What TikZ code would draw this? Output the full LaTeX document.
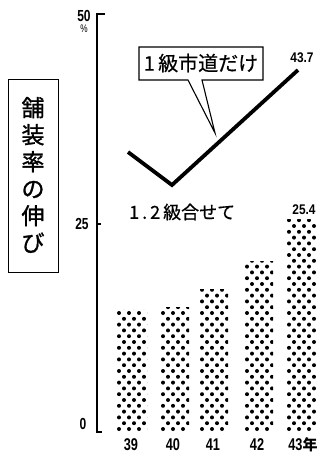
\documentclass[tikz,border=0pt]{standalone}
\usepackage{fontspec}
\newfontfamily\jp{Noto Sans CJK JP}
\newfontfamily\jpt[FakeBold=1.2]{Noto Sans CJK JP}
\newfontfamily\jpm[FakeBold=0.6]{Noto Sans CJK JP}
\newfontfamily\num{Liberation Sans}
\newcommand\cnum[2][0.75]{\scalebox{#1}[1]{#2}}
\begin{document}
\begin{tikzpicture}[x=1pt,y=-1pt,
  numlbl/.style={inner sep=0pt,font=\num\bfseries\fontsize{17}{17}\selectfont},
  axlbl/.style={inner sep=0pt,font=\num\bfseries\fontsize{16}{16}\selectfont},
  vallbl/.style={inner sep=0pt,font=\num\bfseries\fontsize{14}{14}\selectfont},
  axisline/.style={line width=1.8pt}]
\useasboundingbox (0,0) rectangle (320,453);
% axis
\draw[axisline] (105,14) -- (97,14) -- (97,432) -- (102,432);
\draw[line width=1.2pt] (97,224) -- (101,224);
\node[axlbl] (l50) at (84,16) {\cnum{50}};
\node[inner sep=0pt,font=\num\fontsize{11}{11}\selectfont] (lpct) at (84,29) {\cnum{\%}};
\node[axlbl] (l25) at (82,224) {\cnum{25}};
\node[axlbl] (l0) at (83,424) {\cnum{0}};
% bars
\newcommand\dotbar[3]{%
  \begin{scope}
  \clip (#1-1,#3-1) rectangle (#2+1,433);
  \foreach \r in {0,...,40}{
    \foreach \c in {0,...,3}{
      \fill ({#1+4+\c*10+mod(\r,2)*5},{429-\r*5.8}) circle (2pt);
    }
  }
  \end{scope}}
\dotbar{115}{146}{310}
\dotbar{159}{188}{308}
\dotbar{198}{227}{290}
\dotbar{243}{272}{262}
\dotbar{285}{315}{220}
\node[numlbl] (y39) at (131,445) {\cnum{39}};
\node[numlbl] (y40) at (173,445) {\cnum{40}};
\node[numlbl] (y41) at (213,445) {\cnum{41}};
\node[numlbl] (y42) at (257,445) {\cnum{42}};
\node[numlbl] (y43) at (303,445) {\cnum{43}{\jp\fontsize{15}{15}\selectfont 年}};
\node[vallbl] (v254) at (304,210) {\cnum[0.85]{25.4}};
\node[vallbl] (v437) at (302,58) {\cnum[0.85]{43.7}};
% line
\coordinate (p1) at (128,152);
\coordinate (p2) at (172,185);
\coordinate (p3) at (298,70);
\draw[line width=3.8pt,line join=miter] (p1) -- (p2) -- (p3);
% callout
\draw[line width=1.1pt,fill=white] (139,47) -- (263,47) -- (263,80) -- (202,80) -- (215,133) -- (188,80) -- (139,80) -- cycle;
\node[inner sep=0pt,font=\jpm\fontsize{20}{20}\selectfont] (call) at (201,63) {1\,級市道だけ};
% subtitle
\node[inner sep=0pt,font=\jpm\fontsize{18}{18}\selectfont,anchor=west] (sub) at (129,212) {1\,.\,2\,級合せて};
% title box
\draw[line width=1pt] (8,79) rectangle (58,272);
\node[inner sep=0pt,font=\jpt\fontsize{23}{27}\selectfont,align=center] (title) at (33,175) {舗\\装\\率\\の\\伸\\び};
\end{tikzpicture}
\end{document}
